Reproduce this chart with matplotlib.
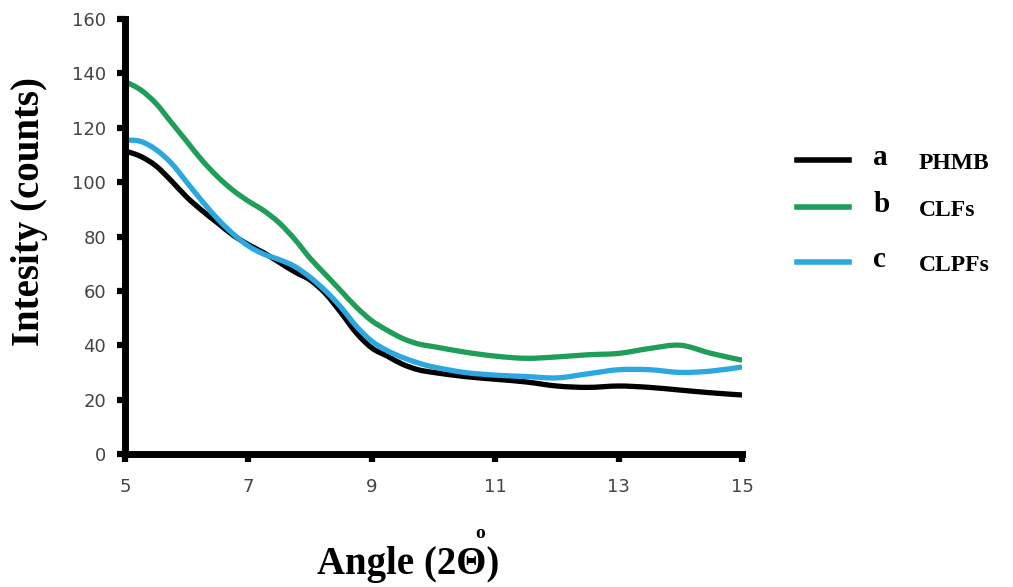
import numpy as np
import matplotlib.pyplot as plt
from matplotlib.lines import Line2D
from matplotlib.path import Path
from matplotlib.patches import PathPatch

angle = [5.0, 5.25, 5.5, 5.75, 6.0, 6.25, 6.5, 6.75, 7.0, 7.25, 7.5, 7.75,
         8.0, 8.25, 8.5, 8.75, 9.0, 9.25, 9.5, 9.75, 10.0, 10.5, 11.0, 11.5,
         12.0, 12.5, 13.0, 13.5, 14.0, 14.5, 15.0]

phmb = [111.5, 109.5, 106, 100.5, 94.5, 89.5, 85, 80.5, 77, 74, 70.5, 67,
        64, 59, 52, 44.5, 39, 36, 33, 31, 30, 28.5, 27.5, 26.5,
        25, 24.5, 25, 24.5, 23.5, 22.5, 21.7]

clfs = [137, 134, 129, 122, 115, 108, 102, 97, 93, 89.5, 85, 79,
        72, 66, 60, 54, 49, 45.5, 42.5, 40.5, 39.5, 37.5, 36, 35.2,
        35.7, 36.5, 37, 38.8, 40, 37, 34.5]

clpfs = [115.5, 115, 112, 107, 100, 93, 86.5, 81, 76.5, 73.5, 71.5, 69,
         65, 60, 54, 47, 41.5, 38, 35.5, 33.5, 32, 30, 29, 28.5,
         28, 29.5, 31, 31, 30, 30.5, 32]

series = [("a", "PHMB", phmb, "#000000"),
          ("b", "CLFs", clfs, "#1f9e57"),
          ("c", "CLPFs", clpfs, "#2aa8df")]


def smooth_path(x, y):
    # Excel-style smoothed line: cubic bezier through every data point
    p = np.column_stack([x, y]).astype(float)
    ext = np.vstack([p[0], p, p[-1]])
    verts = [p[0]]
    codes = [Path.MOVETO]
    for i in range(len(p) - 1):
        p0, p1, p2, p3 = ext[i], ext[i + 1], ext[i + 2], ext[i + 3]
        verts += [p1 + (p2 - p0) / 6, p2 - (p3 - p1) / 6, p2]
        codes += [Path.CURVE4] * 3
    return Path(verts, codes)


fig = plt.figure(figsize=(10.13, 5.87), dpi=100)
ax = fig.add_axes([0.1234, 0.2266, 0.6091, 0.741])

for letter, name, vals, col in series:
    ax.add_patch(PathPatch(smooth_path(angle, vals), fill=False,
                           edgecolor=col, lw=3.8, capstyle='butt',
                           joinstyle='round'))

ax.set_xlim(5, 15)
ax.set_ylim(0, 160)
ax.set_xticks([5, 7, 9, 11, 13, 15])
ax.set_yticks(np.arange(0, 161, 20))
for s in ['top', 'right']:
    ax.spines[s].set_visible(False)
for s in ['left', 'bottom']:
    ax.spines[s].set_linewidth(5)
    ax.spines[s].set_capstyle('projecting')
ax.tick_params(axis='both', direction='out', length=5.5, width=4.5,
               labelsize=13, labelcolor='#444444', pad=12)
ax.tick_params(axis='y', pad=8)

serif = 'Liberation Serif'
fig.text(0.029, 0.64, 'Intesity (counts)', fontsize=28, fontweight='bold',
         family=serif, rotation=90, ha='center', va='center')
fig.text(0.403, 0.022, 'Angle (2Θ)', fontsize=28,
         fontweight='bold', family=serif, ha='center', va='baseline')
fig.text(0.474, 0.083, 'o', fontsize=14, family=serif, fontweight='bold',
         ha='center', va='baseline')

# legend drawn by hand
ys = [0.727, 0.648, 0.554]
for (letter, name, vals, col), y in zip(series, ys):
    fig.add_artist(Line2D([0.787, 0.838], [y, y], color=col, lw=4,
                          transform=fig.transFigure))
    fig.text(0.862, y + 0.004, letter, fontsize=21, fontweight='bold',
             family=serif, va='center')
    fig.text(0.907, y - 0.006, name, fontsize=17, fontweight='bold',
             family=serif, va='center')

fig.savefig('out.png', dpi=100)
